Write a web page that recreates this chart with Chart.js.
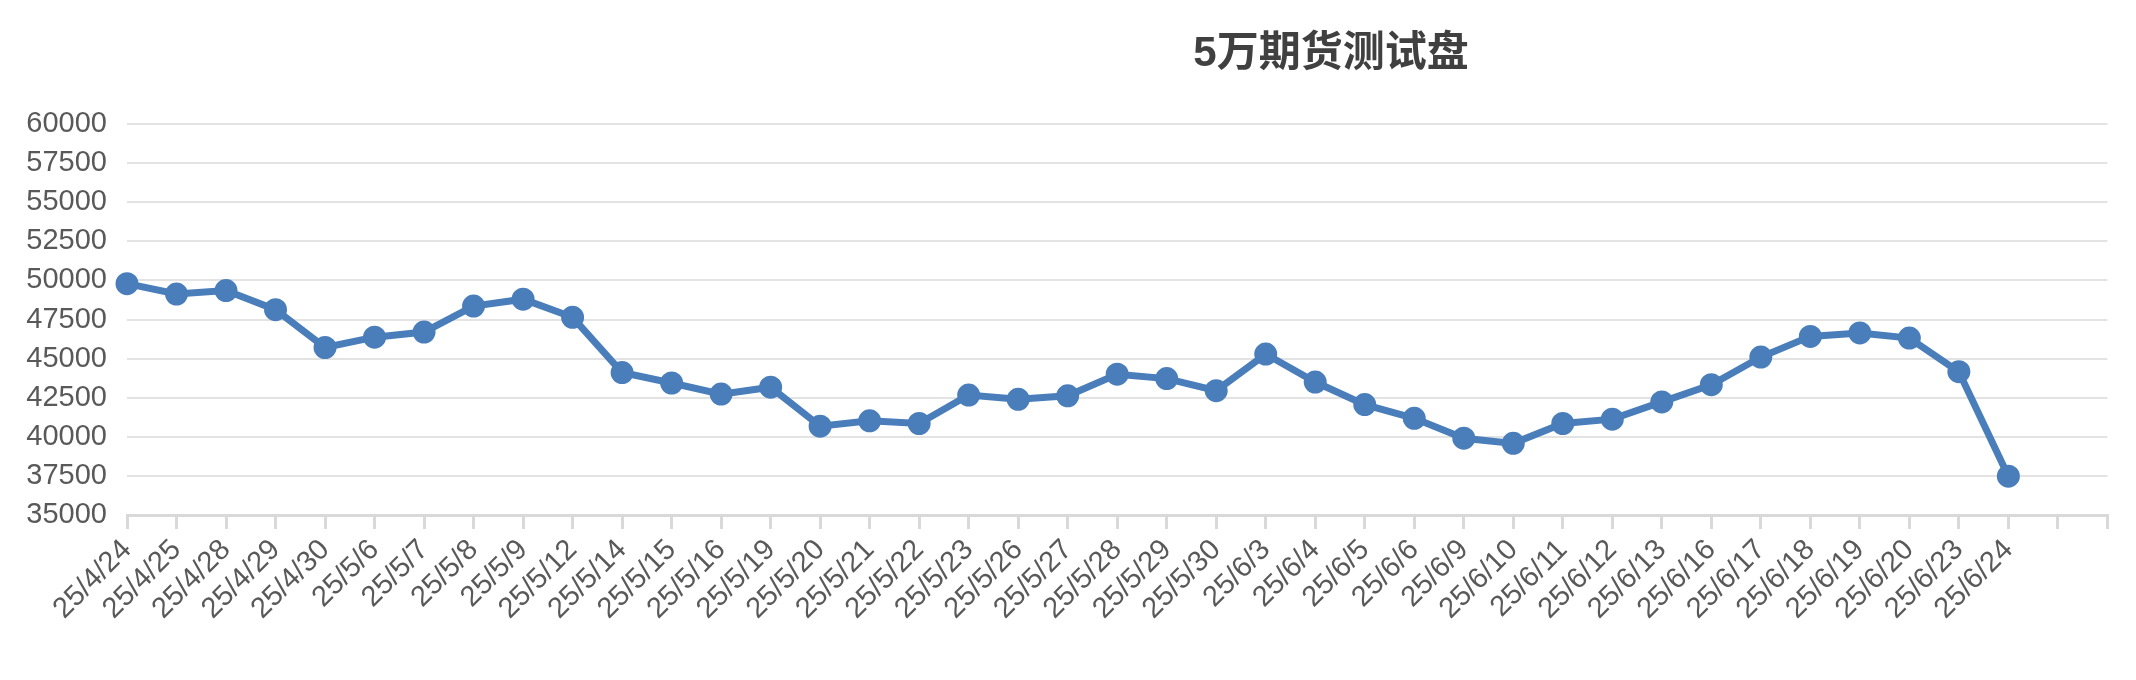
<!DOCTYPE html>
<html><head><meta charset="utf-8">
<script src="https://cdn.jsdelivr.net/npm/chart.js@4/dist/chart.umd.min.js"></script>
<style>html,body{margin:0;padding:0;background:#fff}#w{width:2136px;height:680px}</style>
</head><body><div id="w"><canvas id="c"></canvas></div>
<script>
const titleText = "5万期货测试盘";
const categories = ["25/4/24","25/4/25","25/4/28","25/4/29","25/4/30","25/5/6","25/5/7","25/5/8","25/5/9","25/5/12","25/5/14","25/5/15","25/5/16","25/5/19","25/5/20","25/5/21","25/5/22","25/5/23","25/5/26","25/5/27","25/5/28","25/5/29","25/5/30","25/6/3","25/6/4","25/6/5","25/6/6","25/6/9","25/6/10","25/6/11","25/6/12","25/6/13","25/6/16","25/6/17","25/6/18","25/6/19","25/6/20","25/6/23","25/6/24","",""];
const values = [49790,49130,49350,48130,45710,46370,46700,48360,48800,47640,44110,43440,42730,43170,40680,41020,40850,42670,42400,42620,44000,43720,42950,45290,43500,42060,41180,39910,39580,40850,41130,42230,43330,45100,46420,46640,46310,44160,37480];
const yMin = 35000, yMax = 60000, yStep = 2500;

const titlePlugin = {
  id: 'tp',
  afterDraw(chart) {
    const ctx = chart.ctx;
    ctx.save();
    ctx.font = 'bold 42px "Liberation Sans","Noto Sans CJK SC",sans-serif';
    ctx.fillStyle = '#404040';
    ctx.textAlign = 'center'; ctx.textBaseline = 'middle';
    ctx.fillText(titleText, 1331, 54);
    ctx.restore();
  }
};
Chart.defaults.font.family = '"Liberation Sans", Arial, sans-serif';
new Chart(document.getElementById('c'), {
  type: 'line',
  data: { labels: categories, datasets: [{
    data: values, borderColor: '#4a7ebb', backgroundColor: '#4a7ebb',
    borderWidth: 7, pointRadius: 8, pointHoverRadius: 8, tension: 0
  }]},
  options: {
    responsive: true, maintainAspectRatio: false, animation: false,
    layout: { padding: { top: 124, right: -14, left: 0, bottom: 0 } },
    plugins: { legend: { display: false }, tooltip: { enabled: false } },
    scales: {
      x: {
        offset: false,
        afterFit(s) { s.height = 165; },
        grid: { display: true, drawOnChartArea: false, color: '#d9d9d9', lineWidth: 3, tickLength: 14 },
        border: { color: '#d9d9d9', width: 3 },
        ticks: { autoSkip: false, maxRotation: 45, minRotation: 45, color: '#595959', font: { size: 29 }, padding: 4 }
      },
      y: {
        min: yMin, max: yMax,
        afterFit(s) { s.width = 127; },
        grid: { color: '#e3e3e3', lineWidth: 2, drawTicks: false },
        border: { display: false },
        ticks: { stepSize: yStep, color: '#595959', font: { size: 29 }, padding: 20, callback: v => String(v) }
      }
    }
  },
  plugins: [titlePlugin]
});
</script></body></html>
